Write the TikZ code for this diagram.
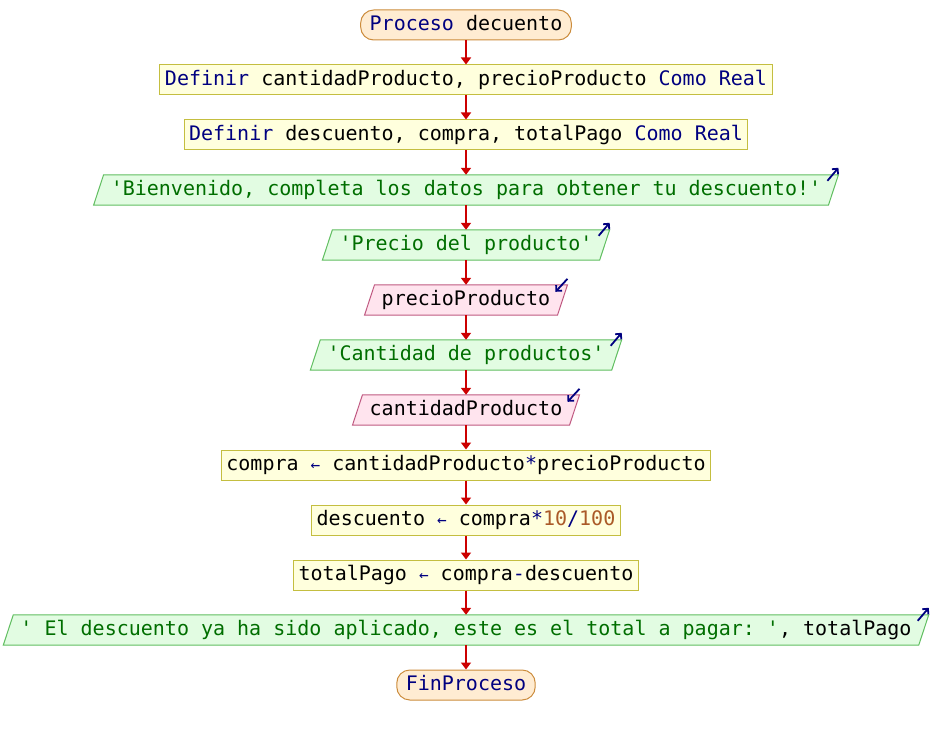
\documentclass[tikz,border=0pt]{standalone}
\usepackage{fontspec}
\setmonofont{DejaVu Sans Mono}
\usetikzlibrary{arrows.meta,backgrounds}
\definecolor{kw}{RGB}{0,0,128}
\definecolor{str}{RGB}{0,110,0}
\definecolor{num}{RGB}{170,90,40}
\definecolor{flowred}{RGB}{204,0,0}
\definecolor{procfill}{RGB}{255,255,221}
\definecolor{procline}{RGB}{196,190,64}
\definecolor{termfill}{RGB}{255,236,210}
\definecolor{termline}{RGB}{204,140,60}
\definecolor{outfill}{RGB}{226,252,226}
\definecolor{outline}{RGB}{96,190,96}
\definecolor{infill}{RGB}{255,228,238}
\definecolor{inline}{RGB}{192,90,130}
\tikzset{
  base/.style={font=\ttfamily\fontsize{20}{22}\selectfont, minimum height=30pt,
    inner ysep=0pt, text height=15pt, text depth=4pt, anchor=center},
  procbox/.style={base, draw=procline, fill=procfill, line width=1pt, inner xsep=5pt},
  termbox/.style={base, draw=termline, fill=termfill, line width=1pt, rounded corners=13pt, inner xsep=9pt},
  iobox/.style={base, inner xsep=12pt},
  flow/.style={draw=flowred, line width=1.8pt, -{Triangle[length=7pt,width=10pt]}},
  icon/.style={draw=kw, line width=1.8pt, -{Straight Barb[length=4pt,width=8pt]}},
}
\newcommand\arr{{\color{kw}\fontsize{16}{16}\selectfont ←}}
\newcommand\paraback[3]{%
  \begin{scope}[on background layer]
    \filldraw[fill=#2, draw=#3, line width=1pt]
      ([xshift=-5pt]#1.south west) -- ([xshift=5pt]#1.north west) --
      ([xshift=5pt]#1.north east) -- ([xshift=-5pt]#1.south east) -- cycle;
  \end{scope}}
\newcommand\outicon[1]{\draw[icon] ([shift={(-6,6)}]#1.north east) -- ([shift={(5,-7)}]#1.north east);}
\newcommand\inicon[1]{\draw[icon] ([shift={(5,-6)}]#1.north east) -- ([shift={(-7,7)}]#1.north east);}
\begin{document}
\begin{tikzpicture}[x=1pt,y=-1pt]
\begin{scope}[on background layer]
  \fill[white] (0,0) rectangle (932,735);
\end{scope}
\useasboundingbox (0,0) rectangle (932,735);

\node[termbox] (start) at (466,25) {\color{kw}Proceso \color{black}decuento};
\node[procbox] (def1) at (466,80) {{\color{kw}Definir} cantidadProducto, precioProducto {\color{kw}Como Real}};
\node[procbox] (def2) at (466,135) {{\color{kw}Definir} descuento, compra, totalPago {\color{kw}Como Real}};
\node[iobox] (out1) at (466,190) {\color{str}'Bienvenido, completa los datos para obtener tu descuento!'};
\node[iobox] (out2) at (466,245) {\color{str}'Precio del producto'};
\node[iobox] (in1) at (466,300) {precioProducto};
\node[iobox] (out3) at (466,355) {\color{str}'Cantidad de productos'};
\node[iobox] (in2) at (466,410) {cantidadProducto};
\node[procbox] (as1) at (466,465) {compra \arr{} cantidadProducto{\color{kw}*}precioProducto};
\node[procbox] (as2) at (466,520) {descuento \arr{} compra{\color{kw}*}{\color{num}10}{\color{kw}/}{\color{num}100}};
\node[procbox] (as3) at (466,575) {totalPago \arr{} compra{\color{kw}-}descuento};
\node[iobox] (out4) at (466,630) {{\color{str}' El descuento ya ha sido aplicado, este es el total a pagar: '}, totalPago};
\node[termbox] (fin) at (466,685) {\color{kw}FinProceso};

\paraback{out1}{outfill}{outline}
\paraback{out2}{outfill}{outline}
\paraback{in1}{infill}{inline}
\paraback{out3}{outfill}{outline}
\paraback{in2}{infill}{inline}
\paraback{out4}{outfill}{outline}

\outicon{out1}
\outicon{out2}
\inicon{in1}
\outicon{out3}
\inicon{in2}
\outicon{out4}

\draw[flow] (start) -- (def1);
\draw[flow] (def1) -- (def2);
\draw[flow] (def2) -- (out1);
\draw[flow] (out1) -- (out2);
\draw[flow] (out2) -- (in1);
\draw[flow] (in1) -- (out3);
\draw[flow] (out3) -- (in2);
\draw[flow] (in2) -- (as1);
\draw[flow] (as1) -- (as2);
\draw[flow] (as2) -- (as3);
\draw[flow] (as3) -- (out4);
\draw[flow] (out4) -- (fin);
\end{tikzpicture}
\end{document}
